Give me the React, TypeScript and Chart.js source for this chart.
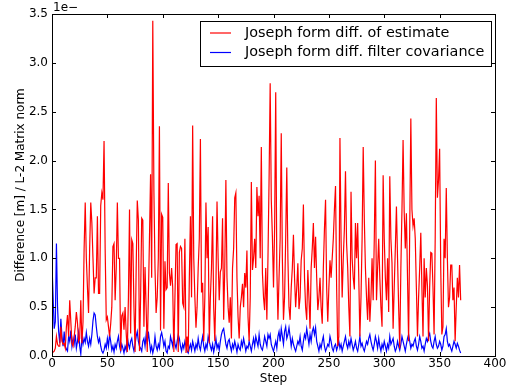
import React, { useEffect, useRef } from "react";
import { Chart, registerables } from "chart.js";
Chart.register(...registerables);

const red = [
  0.04, 0.04, 0.05, 0.08, 0.2, 0.12, 0.1, 0.1, 0.3, 0.15,
  0.12, 0.13, 0.08, 0.3, 0.42, 0.2, 0.57, 0.35, 0.13, 0.1,
  0.2, 0.3, 0.45, 0.34, 0.15, 0.18, 0.57, 0.13, 0.35, 1.1,
  1.57, 1.0, 0.7, 0.44, 1.1, 1.57, 1.36, 1.0, 0.64, 0.8,
  0.8, 1.43, 0.64, 0.64, 1.54, 1.67, 1.6, 2.2, 1.09, 0.37,
  0.4, 0.3, 0.2, 0.33, 0.5, 1.12, 1.15, 0.57, 0.9, 1.57,
  1.0, 1.0, 0.05, 0.41, 0.44, 0.27, 0.5, 0.23, 0.04, 0.6,
  1.5, 0.23, 1.19, 1.15, 0.5, 0.04, 0.9, 1.59, 1.39, 0.05,
  0.6, 1.41, 1.39, 0.3, 0.91, 0.5, 0.04, 0.6, 1.2, 1.86,
  0.8, 3.43, 1.7, 0.9, 0.44, 0.6, 1.0, 2.35, 0.26, 1.45,
  1.42, 0.28, 0.97, 0.68, 0.7, 1.77, 0.85, 0.72, 0.9, 0.7,
  0.04, 0.6, 1.14, 1.15, 0.04, 1.06, 1.12, 1.1, 0.54, 0.5,
  1.2, 0.03, 0.2, 0.04, 0.8, 1.43, 0.6, 2.36, 1.0, 0.6,
  0.29, 0.5, 0.9, 1.2, 2.22, 0.65, 0.75, 0.15, 0.6, 1.57,
  1.0, 1.32, 0.13, 0.6, 0.9, 1.43, 0.5, 0.15, 0.7, 1.58,
  1.0, 0.57, 0.86, 0.9, 1.41, 0.37, 0.9, 1.8, 0.8, 0.5,
  0.34, 0.6, 0.18, 0.9, 1.1, 1.62, 1.67, 0.8, 0.4, 0.18,
  0.5, 0.6, 0.74, 0.5, 0.85, 0.7, 1.08, 0.4, 0.15, 0.6,
  1.78, 0.88, 1.0, 1.2, 0.9, 1.73, 1.43, 1.64, 1.0, 2.14,
  0.85, 0.6, 0.47, 0.9, 0.37, 1.0, 1.8, 2.79, 1.6, 1.22,
  0.7, 1.3, 2.7, 0.9, 0.37, 0.8, 1.2, 2.28, 1.0, 0.37,
  0.6, 1.2, 1.93, 1.0, 0.5, 0.37, 0.7, 0.9, 1.24, 0.8,
  0.5, 0.7, 0.95, 0.48, 0.6, 0.98, 1.1, 1.55, 0.8, 0.5,
  0.37, 0.88, 0.6, 0.28, 0.9, 1.1, 1.36, 0.9, 1.22, 0.8,
  0.47, 0.6, 0.8, 0.5, 0.33, 0.9, 1.3, 1.6, 0.7, 0.35,
  0.7, 0.98, 0.8, 1.0, 1.2, 1.5, 1.74, 0.7, 0.1, 0.2,
  2.23, 1.2, 0.6, 1.0, 1.3, 1.89, 1.15, 0.9, 0.5, 0.2,
  1.68, 1.0, 0.8, 0.68, 1.36, 1.0, 1.36, 0.8, 0.2, 0.6,
  1.2, 2.14, 1.4, 0.9, 0.6, 0.37, 0.8, 0.35, 0.6, 1.0,
  0.57, 1.2, 2.0, 0.57, 0.9, 1.2, 0.8, 0.5, 0.3, 1.85,
  1.2, 0.8, 0.57, 1.0, 0.45, 1.84, 1.2, 0.95, 0.28, 0.7,
  1.1, 1.53, 1.0, 0.5, 0.08, 0.9, 1.5, 2.21, 1.48, 1.1,
  1.46, 0.8, 0.15, 1.3, 2.43, 1.5, 1.33, 1.41, 1.2, 0.7,
  0.2, 0.6, 0.9, 1.26, 0.7, 0.2, 1.0, 0.6, 0.9, 0.72,
  0.15, 0.7, 1.06, 1.05, 0.7, 0.22, 1.2, 2.64, 1.62, 1.8,
  2.12, 0.9, 0.22, 0.3, 1.2, 1.0, 1.72, 1.0, 0.5, 0.6,
  0.93, 0.93, 0.57, 0.7, 0.15, 0.5, 0.8, 0.6, 0.93, 0.57,
];

const blue = [
  0.93, 0.6, 0.28, 0.35, 1.15, 0.5, 0.25, 0.13, 0.38, 0.2,
  0.1, 0.25, 0.1, 0.07, 0.05, 0.2, 0.15, 0.26, 0.1, 0.18,
  0.12, 0.22, 0.08, 0.15, 0.24, 0.1, 0.02, 0.2, 0.12, 0.18,
  0.14, 0.24, 0.15, 0.1, 0.18, 0.12, 0.22, 0.36, 0.44, 0.42,
  0.3, 0.2, 0.14, 0.18, 0.1, 0.05, 0.03, 0.06, 0.12, 0.08,
  0.18, 0.1, 0.22, 0.15, 0.06, 0.1, 0.04, 0.12, 0.08, 0.15,
  0.2, 0.1, 0.05, 0.12, 0.08, 0.03, 0.1, 0.06, 0.2, 0.12,
  0.08, 0.15, 0.18, 0.1, 0.05, 0.12, 0.2, 0.25, 0.15, 0.1,
  0.08, 0.05, 0.15, 0.18, 0.1, 0.22, 0.12, 0.25, 0.15, 0.05,
  0.1, 0.03, 0.08, 0.2, 0.1, 0.06, 0.12, 0.08, 0.2, 0.24,
  0.18, 0.1, 0.15, 0.05, 0.03, 0.1, 0.08, 0.2, 0.15, 0.1,
  0.23, 0.12, 0.08, 0.15, 0.22, 0.18, 0.1, 0.05, 0.12, 0.08,
  0.15, 0.1, 0.05, 0.03, 0.08, 0.12, 0.06, 0.15, 0.1, 0.05,
  0.12, 0.08, 0.18, 0.1, 0.06, 0.14, 0.2, 0.1, 0.05, 0.12,
  0.08, 0.2, 0.15, 0.1, 0.06, 0.12, 0.04, 0.1, 0.18, 0.08,
  0.12, 0.06, 0.15, 0.22, 0.26, 0.28, 0.2, 0.12, 0.08, 0.15,
  0.17, 0.1, 0.05, 0.12, 0.08, 0.15, 0.1, 0.04, 0.12, 0.08,
  0.06, 0.15, 0.1, 0.18, 0.12, 0.05, 0.1, 0.08, 0.15, 0.1,
  0.05, 0.12, 0.18, 0.1, 0.2, 0.15, 0.1, 0.22, 0.12, 0.08,
  0.06, 0.12, 0.2, 0.15, 0.1, 0.22, 0.18, 0.22, 0.12, 0.08,
  0.05, 0.1, 0.15, 0.08, 0.2, 0.25, 0.15, 0.28, 0.2, 0.12,
  0.25, 0.3, 0.18, 0.22, 0.29, 0.2, 0.1, 0.18, 0.12, 0.08,
  0.05, 0.1, 0.15, 0.12, 0.2, 0.1, 0.06, 0.15, 0.22, 0.18,
  0.28, 0.2, 0.12, 0.22, 0.15, 0.25, 0.29, 0.22, 0.29, 0.15,
  0.1, 0.05, 0.12, 0.08, 0.15, 0.2, 0.1, 0.05, 0.08, 0.12,
  0.1, 0.2, 0.15, 0.08, 0.05, 0.1, 0.12, 0.06, 0.1, 0.15,
  0.08, 0.12, 0.05, 0.1, 0.15, 0.2, 0.12, 0.08, 0.15, 0.1,
  0.18, 0.12, 0.06, 0.1, 0.15, 0.08, 0.05, 0.12, 0.2, 0.1,
  0.13, 0.08, 0.05, 0.1, 0.15, 0.12, 0.18, 0.22, 0.15, 0.1,
  0.06, 0.12, 0.2, 0.15, 0.08, 0.18, 0.1, 0.05, 0.12, 0.08,
  0.15, 0.1, 0.05, 0.12, 0.08, 0.2, 0.12, 0.15, 0.18, 0.1,
  0.05, 0.08, 0.15, 0.1, 0.06, 0.12, 0.2, 0.15, 0.1, 0.05,
  0.12, 0.18, 0.22, 0.15, 0.08, 0.12, 0.1, 0.15, 0.18, 0.1,
  0.06, 0.12, 0.2, 0.15, 0.08, 0.1, 0.05, 0.12, 0.18, 0.15,
  0.2, 0.23, 0.15, 0.1, 0.08, 0.15, 0.2, 0.12, 0.08, 0.1,
  0.15, 0.12, 0.06, 0.1, 0.2, 0.22, 0.28, 0.15, 0.1, 0.12,
  0.08, 0.05, 0.1, 0.15, 0.12, 0.08, 0.13, 0.1, 0.06, 0.03,
];

const xTicks = [0, 50, 100, 150, 200, 250, 300, 350, 400];
const yTicks = [0, 0.5, 1.0, 1.5, 2.0, 2.5, 3.0, 3.5];
const seriesNames = ["Joseph form diff. of estimate", "Joseph form diff. filter covariance"];
const seriesColors = ["#ff0000", "#0000ff"];
const xTitle = "Step";
const yTitle = "Difference [m] / L-2 Matrix norm";
const offsetText = "1e\u2212";

const FONT = "DejaVu Sans";

const decorPlugin = {
  id: "decor",
  afterDraw(chart: any) {
    const ctx = chart.ctx;
    const a = chart.chartArea;
    const xs = chart.scales.x;
    const ys = chart.scales.y;
    ctx.save();
    ctx.strokeStyle = "#000";
    ctx.lineWidth = 1;
    const tl = 4;
    ctx.beginPath();
    xTicks.forEach((v) => {
      const px = Math.round(xs.getPixelForValue(v)) + 0.5;
      ctx.moveTo(px, a.bottom);
      ctx.lineTo(px, a.bottom - tl);
      ctx.moveTo(px, a.top);
      ctx.lineTo(px, a.top + tl);
    });
    yTicks.forEach((v) => {
      const py = Math.round(ys.getPixelForValue(v)) + 0.5;
      ctx.moveTo(a.left, py);
      ctx.lineTo(a.left + tl, py);
      ctx.moveTo(a.right, py);
      ctx.lineTo(a.right - tl, py);
    });
    ctx.stroke();
    ctx.strokeRect(Math.round(a.left) + 0.5, Math.round(a.top) + 0.5, Math.round(a.right - a.left), Math.round(a.bottom - a.top));
    ctx.fillStyle = "#000";
    ctx.font = `12px "${FONT}"`;
    ctx.textAlign = "left";
    ctx.textBaseline = "alphabetic";
    ctx.fillText(offsetText, a.left + 1, 11);
    ctx.textAlign = "center";
    ctx.textBaseline = "middle";
    ctx.fillText(xTitle, (a.left + a.right) / 2, 379);
    ctx.save();
    ctx.translate(21, (a.top + a.bottom) / 2);
    ctx.rotate(-Math.PI / 2);
    ctx.fillText(yTitle, 0, 0);
    ctx.restore();
    const bx = 200.5, by = 21.5, bw = 291, bh = 45;
    ctx.fillStyle = "#fff";
    ctx.fillRect(bx, by, bw, bh);
    ctx.strokeStyle = "#000";
    ctx.strokeRect(bx, by, bw, bh);
    ctx.font = `14.4px "${FONT}"`;
    ctx.textAlign = "left";
    ctx.textBaseline = "middle";
    seriesNames.forEach((name, i) => {
      const ly = 33 + i * 19.5;
      ctx.strokeStyle = seriesColors[i];
      ctx.lineWidth = 1.2;
      ctx.beginPath();
      ctx.moveTo(210, ly);
      ctx.lineTo(231, ly);
      ctx.stroke();
      ctx.fillStyle = "#000";
      ctx.fillText(name, 245, ly);
    });
    ctx.restore();
  },
};

export default function App() {
  const ref = useRef<HTMLCanvasElement>(null);
  useEffect(() => {
    const chart = new Chart(ref.current as HTMLCanvasElement, {
      type: "line",
      data: {
        datasets: [
          {
            label: seriesNames[0],
            data: red.map((y, i) => ({ x: i, y })),
            borderColor: seriesColors[0],
            borderWidth: 1.2,
            pointRadius: 0,
            tension: 0,
            fill: false,
          },
          {
            label: seriesNames[1],
            data: blue.map((y, i) => ({ x: i, y })),
            borderColor: seriesColors[1],
            borderWidth: 1.2,
            pointRadius: 0,
            tension: 0,
            fill: false,
          },
        ],
      },
      options: {
        animation: false,
        responsive: false,
        layout: { padding: { top: 14, right: 18, left: 0, bottom: 0 } },
        plugins: { legend: { display: false }, tooltip: { enabled: false } },
        scales: {
          x: {
            type: "linear",
            min: 0,
            max: 400,
            afterBuildTicks: (s: any) => {
              s.ticks = xTicks.map((v) => ({ value: v }));
            },
            afterFit: (s: any) => {
              s.height = 34;
            },
            grid: { display: false, drawTicks: false },
            border: { display: false },
            ticks: {
              padding: 1,
              maxRotation: 0,
              autoSkip: false,
              color: "#000",
              font: { family: FONT, size: 12 },
              callback: (v: any) => String(v),
            },
          },
          y: {
            type: "linear",
            min: 0,
            max: 3.5,
            afterBuildTicks: (s: any) => {
              s.ticks = yTicks.map((v) => ({ value: v }));
            },
            afterFit: (s: any) => {
              s.width = 52;
            },
            grid: { display: false, drawTicks: false },
            border: { display: false },
            ticks: {
              padding: 4,
              autoSkip: false,
              color: "#000",
              font: { family: FONT, size: 12 },
              callback: (v: any) => Number(v).toFixed(1),
            },
          },
        },
      },
      plugins: [decorPlugin],
    });
    return () => chart.destroy();
  }, []);
  return (
    <div style={{ position: "fixed", left: 0, top: 0, width: 513, height: 390, background: "#fff" }}>
      <canvas ref={ref} width={513} height={390} style={{ width: 513, height: 390 }} />
    </div>
  );
}
